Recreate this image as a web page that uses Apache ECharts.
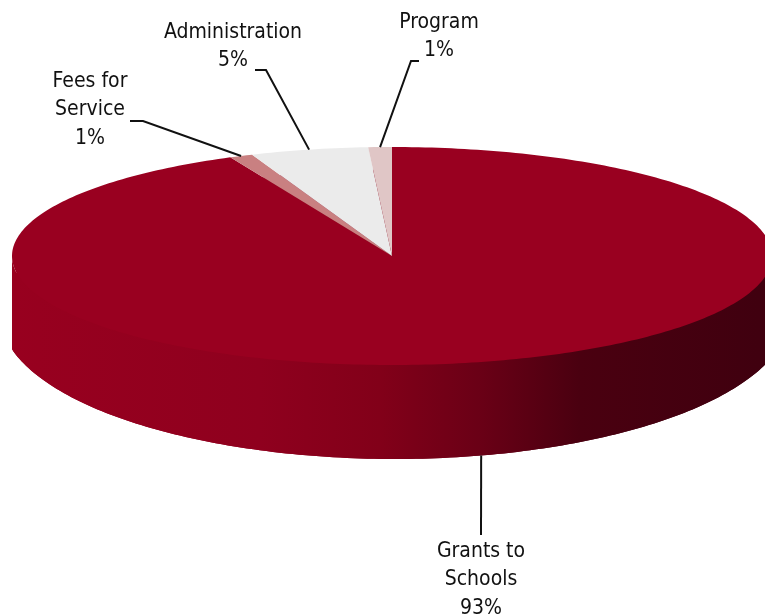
<!DOCTYPE html>
<html>
<head>
<meta charset="utf-8">
<script src="https://cdn.jsdelivr.net/npm/echarts@6/dist/echarts.min.js"></script>
<style>
  html, body { margin: 0; padding: 0; background: #ffffff; }
  #chart { width: 765px; height: 615px; }
</style>
</head>
<body>
<div id="chart"></div>
<script>
// Budget split, drawn as a tilted pie with a solid front wall
const categories = ['Grants to\nSchools', 'Fees for\nService', 'Administration', 'Program'];
const shares = [93, 1, 5, 1];
const sliceColors = ['#990020', '#c98081', '#ebebeb', '#e0c6c6'];

// Projected outline of the disc: upper face and the lower rim
const TOP = { cx: 392, cy: 256, rx: 380, ry: 109 };
const BASE = { cx: 395, cy: 314, rx: 395, ry: 145 };

// Where each label sits and how its leader line bends
const leaderRoutes = [
  { via: [[481, 535]], textAt: [481, 537] },
  { via: [[143, 121], [130, 121]], textAt: [90, 67] },
  { via: [[266, 70], [255, 70]], textAt: [233, 18] },
  { via: [[411, 61], [419, 61]], textAt: [439, 8] }
];

const LABEL_FONT = '21px "DejaVu Sans Condensed", "DejaVu Sans", sans-serif';

const total = shares.reduce((a, b) => a + b, 0);
const startAngles = [];
(function () {
  let acc = 0;
  shares.forEach(v => { startAngles.push(acc / total * 360); acc += v; });
})();

// angle in degrees, clockwise from 12 o'clock
function ellPt(e, deg) {
  const r = deg * Math.PI / 180;
  return [e.cx + e.rx * Math.sin(r), e.cy - e.ry * Math.cos(r)];
}
// lower rim point, kept inside the vertical side walls of the disc
function rimPt(deg) {
  const p = ellPt(BASE, deg);
  p[0] = Math.min(TOP.cx + TOP.rx, Math.max(TOP.cx - TOP.rx, p[0]));
  return p;
}
function arc(e, a0, a1) {
  const n = Math.max(2, Math.ceil(Math.abs(a1 - a0)));
  const pts = [];
  for (let i = 0; i <= n; i++) pts.push(ellPt(e, a0 + (a1 - a0) * i / n));
  return pts;
}
function rimArc(a0, a1) {
  const n = Math.max(2, Math.ceil(Math.abs(a1 - a0)));
  const pts = [];
  for (let i = 0; i <= n; i++) pts.push(rimPt(a0 + (a1 - a0) * i / n));
  return pts;
}

const sideFill = new echarts.graphic.LinearGradient(12, 0, 775, 0, [
  { offset: 0, color: '#98001f' },
  { offset: 0.325, color: '#8f001e' },
  { offset: 0.482, color: '#820019' },
  { offset: 0.613, color: '#6a0016' },
  { offset: 0.744, color: '#4a0010' },
  { offset: 1, color: '#3f000f' }
], true);

function renderSlice(params, api) {
  const i = params.dataIndex;
  const v = api.value(0);
  const a0 = startAngles[i];
  const a1 = a0 + v / total * 360;
  const children = [];

  // front wall: only the part of the slice facing the viewer
  const f0 = Math.max(a0, 90), f1 = Math.min(a1, 270);
  if (f1 > f0) {
    if (a0 <= 180 && a1 >= 180) {
      children.push({
        type: 'polygon', z2: 0, silent: true,
        shape: { points: rimArc(0, 360) },
        style: { fill: sideFill }
      });
    }
    children.push({
      type: 'polygon', z2: 1, silent: true,
      shape: { points: arc(TOP, f0, f1).concat(rimArc(f1, f0)) },
      style: { fill: sideFill }
    });
  }

  // upper face
  children.push({
    type: 'polygon', z2: 10, silent: true,
    shape: { points: [[TOP.cx, TOP.cy]].concat(arc(TOP, a0, a1)) },
    style: { fill: sliceColors[i] }
  });

  // leader line and label
  const mid = (a0 + a1) / 2;
  const anchor = (mid > 90 && mid < 270) ? rimPt(mid) : ellPt(TOP, mid);
  const route = leaderRoutes[i];
  children.push({
    type: 'polyline', z2: 20, silent: true,
    shape: { points: [anchor].concat(route.via) },
    style: { stroke: '#111111', lineWidth: 2, fill: null }
  });
  children.push({
    type: 'text', z2: 30, silent: true,
    style: {
      text: categories[i] + '\n' + v + '%',
      x: route.textAt[0], y: route.textAt[1],
      align: 'center', verticalAlign: 'top',
      font: LABEL_FONT, lineHeight: 28.5, fill: '#111111'
    }
  });

  return { type: 'group', children: children };
}

const chart = echarts.init(document.getElementById('chart'), null, { renderer: 'canvas' });
chart.setOption({
  animation: false,
  backgroundColor: '#ffffff',
  series: [{
    type: 'custom',
    coordinateSystem: 'none',
    renderItem: renderSlice,
    data: shares.map((v, i) => ({ name: categories[i], value: v }))
  }]
});
</script>
</body>
</html>
